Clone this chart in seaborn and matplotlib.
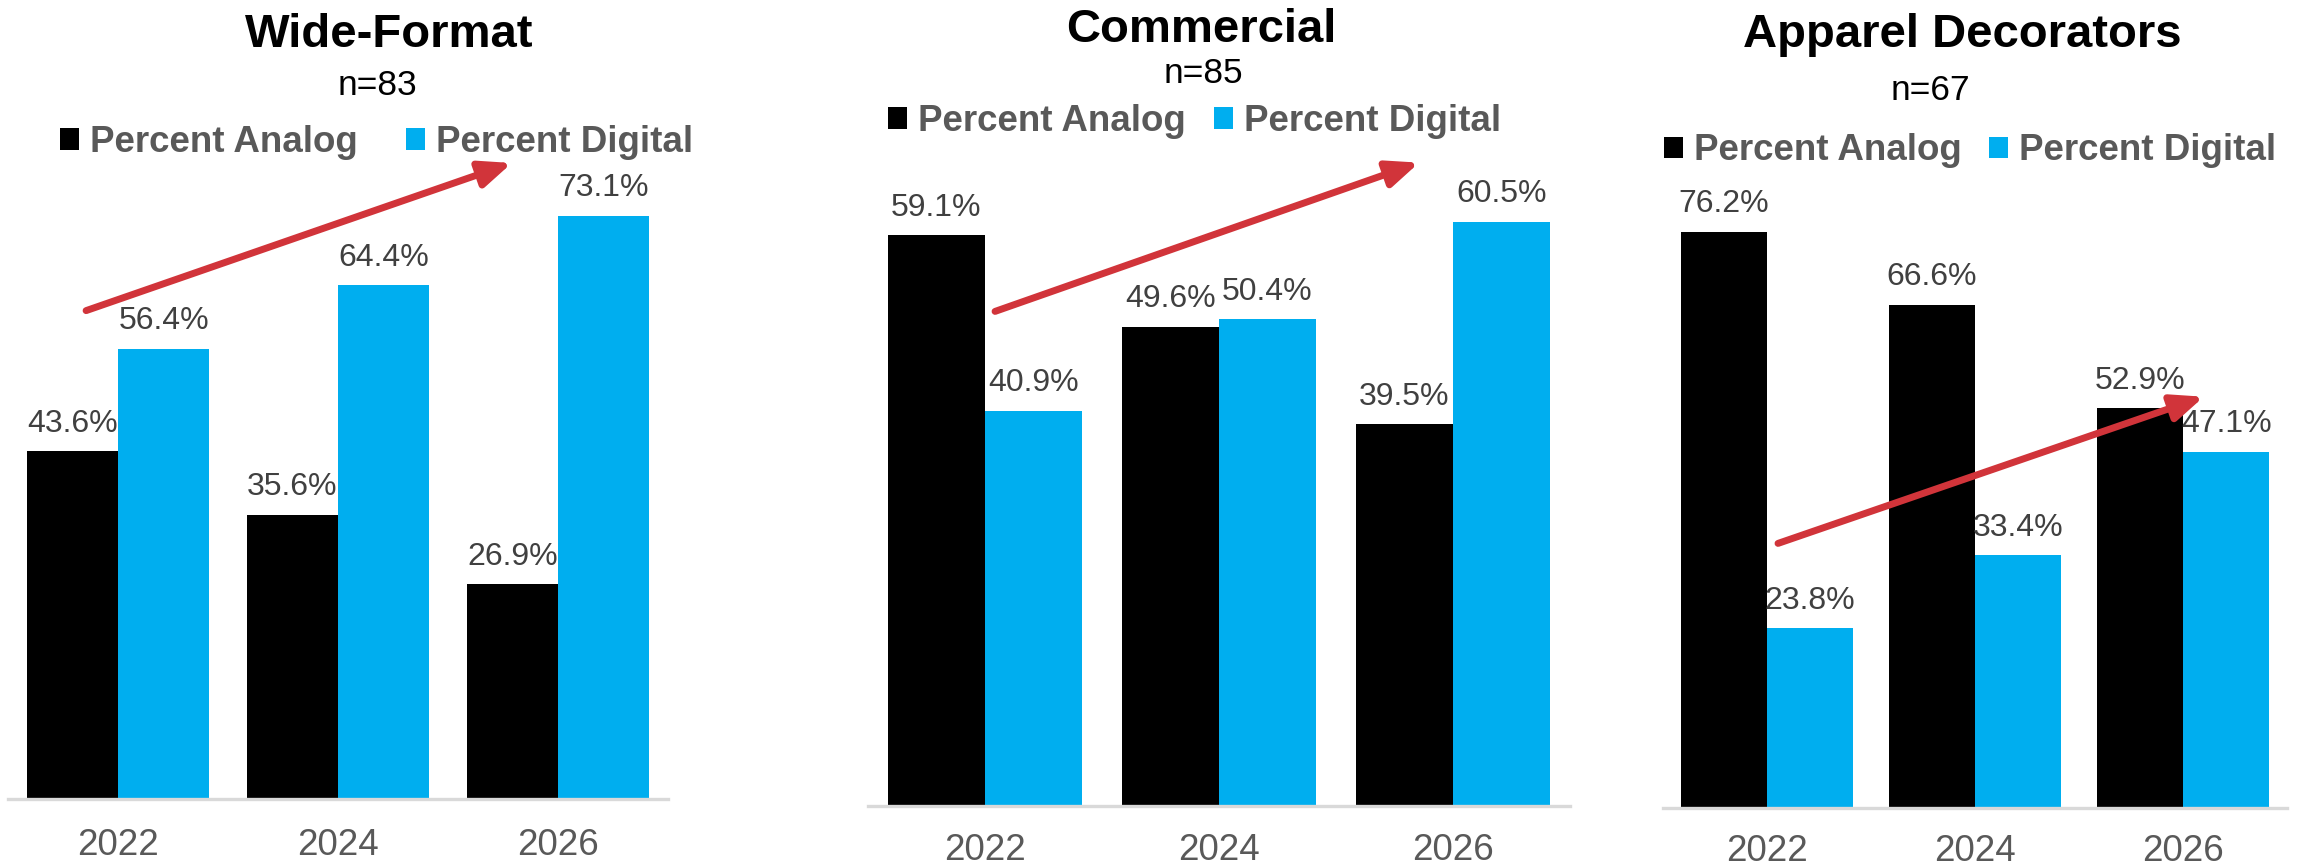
import matplotlib
matplotlib.use("Agg")
import matplotlib.pyplot as plt
import matplotlib.patheffects as pe
import pandas as pd
import seaborn as sns

# ---- data ----
years = ["2022", "2024", "2026"]
series = ["Percent Analog", "Percent Digital"]

wide_analog = [43.6, 35.6, 26.9]
wide_digital = [56.4, 64.4, 73.1]

comm_analog = [59.1, 49.6, 39.5]
comm_digital = [40.9, 50.4, 60.5]

apparel_analog = [76.2, 66.6, 52.9]
apparel_digital = [23.8, 33.4, 47.1]

titles = ["Wide-Format", "Commercial", "Apparel Decorators"]
sample_sizes = ["n=83", "n=85", "n=67"]

BLACK = "#000000"
BLUE = "#00AEEF"
RED = "#D1343A"
GRAY_TXT = "#595959"
VAL_TXT = "#404040"
AXIS_GRAY = "#D9D9D9"

sns.set_style("white")
plt.rcParams["font.family"] = ["Liberation Sans", "DejaVu Sans"]

W, H = 2302, 867
fig = plt.figure(figsize=(W / 100, H / 100), dpi=100)


def fx(px):
    return px / W


def fy(py):
    return 1 - py / H


# panel geometry in pixels: left, right, baseline, top
panels = [
    dict(a=wide_analog, d=wide_digital, box=(8, 668, 799, 160.6), ymax=80,
         title=(389, 47), n=(377, 95), leg=(376.5, 142.5, 1.3),
         pad=21, arrow=((-0.145, 61.2), (1.79, 79.7))),
    dict(a=comm_analog, d=comm_digital, box=(868, 1570, 806, 129.8), ymax=70,
         title=(1201, 42), n=(1203, 83), leg=(1194.5, 121.5, 0.75),
         pad=19.5, arrow=((0.043, 51.2), (1.855, 66.6))),
    dict(a=apparel_analog, d=apparel_digital, box=(1663, 2287, 808, 203.2), ymax=80,
         title=(1962, 47), n=(1930, 100), leg=(1970, 151, 0.75),
         pad=18.5, arrow=((0.053, 35.0), (2.10, 54.4))),
]

for i, p in enumerate(panels):
    left, right, base, top = p["box"]
    ax = fig.add_axes([fx(left), fy(base), fx(right - left), (base - top) / H])

    df = pd.DataFrame({
        "year": years * 2,
        "series": [series[0]] * 3 + [series[1]] * 3,
        "value": p["a"] + p["d"],
    })
    sns.barplot(data=df, x="year", y="value", hue="series", order=years,
                hue_order=series, palette=[BLACK, BLUE], saturation=1,
                width=0.83, gap=0, linewidth=0, ax=ax, legend=True)

    for cont in ax.containers:
        ax.bar_label(cont, fmt="%.1f%%", padding=9, fontsize=23, color=VAL_TXT)

    ax.set_xlim(-0.5, 2.5)
    ax.set_ylim(0, p["ymax"])
    ax.set_yticks([])
    ax.set_xlabel("")
    ax.set_ylabel("")
    for side in ["left", "right", "top"]:
        ax.spines[side].set_visible(False)
    ax.spines["bottom"].set_color(AXIS_GRAY)
    ax.spines["bottom"].set_linewidth(2.4)
    ax.tick_params(axis="x", length=0, pad=p["pad"], labelsize=26.5,
                   labelcolor=GRAY_TXT)

    # legend row above the bars
    old = ax.get_legend()
    handles = list(old.legend_handles)
    labels = [t.get_text() for t in old.get_texts()]
    old.remove()
    for h in handles:
        h.set_linewidth(0)
    lx, ly, colsp = p["leg"]
    ax.legend(handles, labels, loc="center", bbox_to_anchor=(fx(lx), fy(ly)),
              bbox_transform=fig.transFigure, ncol=2, frameon=False,
              handlelength=0.52, handleheight=0.52, handletextpad=0.3,
              columnspacing=colsp, borderpad=0, borderaxespad=0,
              prop={"weight": "bold", "size": 26.5}, labelcolor=GRAY_TXT)

    # trend arrow
    (x0, y0), (x1, y1) = p["arrow"]
    ann = ax.annotate("", xy=(x1, y1), xytext=(x0, y0), annotation_clip=False,
                      arrowprops=dict(arrowstyle="-|>,head_length=1.9,head_width=0.8",
                                      mutation_scale=10, color=RED, lw=5,
                                      shrinkA=0, shrinkB=0),
                      zorder=6)
    ann.arrow_patch.set_path_effects([
        pe.SimplePatchShadow(offset=(1.5, -1.5), shadow_rgbFace="#808080", alpha=0.35),
        pe.Normal(),
    ])

    tx, tyb = p["title"]
    fig.text(fx(tx), fy(tyb), titles[i], ha="center", va="baseline",
             fontsize=34, fontweight="bold", color="black")
    nx, nyb = p["n"]
    fig.text(fx(nx), fy(nyb), sample_sizes[i], ha="center", va="baseline",
             fontsize=25.5, color="black")

fig.savefig("out.png", dpi=100, facecolor="white")
